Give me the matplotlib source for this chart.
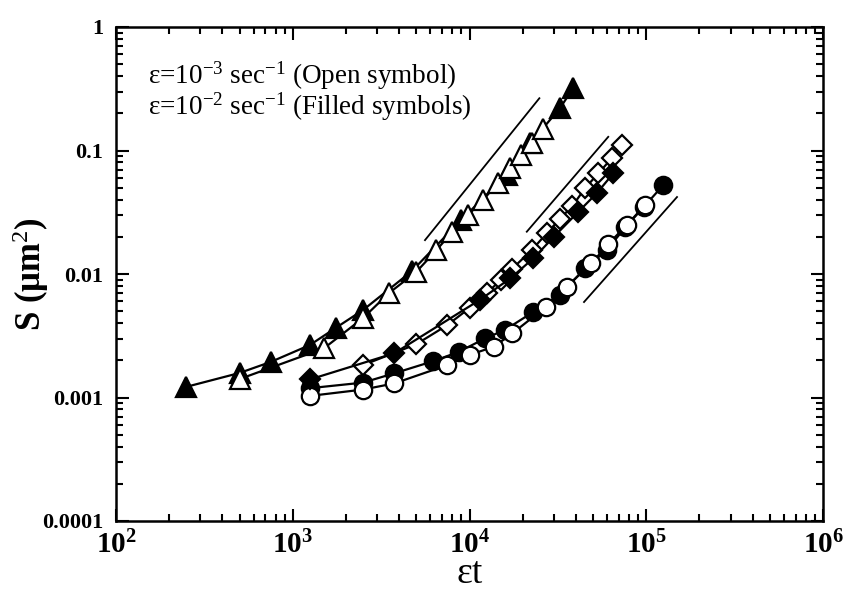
import matplotlib
matplotlib.use("Agg")
import matplotlib.pyplot as plt
from matplotlib.ticker import LogLocator, FixedLocator, FixedFormatter, NullFormatter

plt.rcParams['font.family'] = ['Liberation Serif', 'DejaVu Serif']
plt.rcParams['mathtext.fontset'] = 'custom'
plt.rcParams['mathtext.rm'] = 'Liberation Serif'
plt.rcParams['mathtext.it'] = 'Liberation Serif:italic'
plt.rcParams['mathtext.bf'] = 'Liberation Serif:bold'

# ---- data ----
tri_open_x = [500, 1500, 2500, 3500, 5000, 6500, 8000, 9800, 12000, 14500, 17000, 19500, 22500, 26000]
tri_open_y = [0.00141, 0.0025, 0.0044, 0.0070, 0.0104, 0.0156, 0.022, 0.030, 0.040, 0.055, 0.072, 0.092, 0.114, 0.15]

tri_fill_x = [250, 500, 750, 1250, 1750, 2500, 4700, 9000, 16200, 22000, 32500, 38600]
tri_fill_y = [0.00122, 0.00158, 0.00194, 0.00266, 0.00366, 0.00511, 0.0105, 0.0275, 0.0633, 0.114, 0.22, 0.32]

dia_open_x = [2500, 5000, 7500, 10000, 12500, 15000, 17400, 22500, 27300, 32500, 38200, 45000, 53600, 63800, 72600]
dia_open_y = [0.00183, 0.0027, 0.00386, 0.0053, 0.0070, 0.0089, 0.011, 0.0156, 0.0213, 0.028, 0.0355, 0.0494, 0.0654, 0.0865, 0.111]

dia_fill_x = [1250, 3750, 11500, 17000, 23000, 30000, 41300, 52400, 65200]
dia_fill_y = [0.0014, 0.00228, 0.0062, 0.0092, 0.0134, 0.020, 0.0319, 0.045, 0.0654]

cir_open_x = [1250, 2500, 3750, 7500, 10000, 13750, 17500, 27000, 35500, 49000, 61000, 77500, 98500]
cir_open_y = [0.00103, 0.00116, 0.0013, 0.00183, 0.00221, 0.00258, 0.00331, 0.0054, 0.0079, 0.0122, 0.0175, 0.0249, 0.0362]

cir_fill_x = [1250, 2500, 3750, 6250, 8750, 12250, 15850, 22800, 32500, 45000, 59700, 76000, 97000, 125000]
cir_fill_y = [0.00119, 0.00132, 0.00157, 0.00197, 0.00235, 0.00301, 0.00352, 0.0049, 0.0068, 0.0111, 0.0156, 0.0238, 0.035, 0.0526]

guide1_x = [5600, 24850]
guide1_y = [0.0188, 0.265]
guide2_x = [21090, 60950]
guide2_y = [0.022, 0.129]
guide3_x = [44450, 149300]
guide3_y = [0.00593, 0.042]

x_ticks = [1e2, 1e3, 1e4, 1e5, 1e6]
x_ticklabels = [r'$\mathbf{10^{2}}$', r'$\mathbf{10^{3}}$', r'$\mathbf{10^{4}}$', r'$\mathbf{10^{5}}$', r'$\mathbf{10^{6}}$']
y_ticks = [1e-4, 1e-3, 1e-2, 1e-1, 1]
y_ticklabels = ['0.0001', '0.001', '0.01', '0.1', '1']

legend_lines = [r'ε=10$^{-3}$ sec$^{-1}$ (Open symbol)', r'ε=10$^{-2}$ sec$^{-1}$ (Filled symbols)']

# ---- figure ----
fig = plt.figure(figsize=(8.58, 6.0), dpi=100)
ax = fig.add_axes([116/858, 1-521/600, (823-116)/858, (521-27)/600])
ax.set_xscale('log')
ax.set_yscale('log')
ax.set_xlim(1e2, 1e6)
ax.set_ylim(1e-4, 1)

lw = 1.6
mew = 1.6
common = dict(color='black', lw=lw, mew=mew, mec='black')

ax.plot(tri_fill_x, tri_fill_y, marker='^', ms=15, mfc='black', **common, zorder=3)
ax.plot(tri_open_x, tri_open_y, marker='^', ms=15, mfc='white', **common, zorder=4)
ax.plot(cir_fill_x, cir_fill_y, marker='o', ms=12.5, mfc='black', **common, zorder=3)
ax.plot(cir_open_x, cir_open_y, marker='o', ms=12.5, mfc='white', **common, zorder=4)
ax.plot(dia_fill_x, dia_fill_y, marker='D', ms=10, mfc='black', **common, zorder=5)
ax.plot(dia_open_x, dia_open_y, marker='D', ms=10, mfc='white', **common, zorder=4)

for gx, gy in [(guide1_x, guide1_y), (guide2_x, guide2_y), (guide3_x, guide3_y)]:
    ax.plot(gx, gy, color='black', lw=1.3, zorder=2)

# ticks
ax.xaxis.set_major_locator(FixedLocator(x_ticks))
ax.xaxis.set_major_formatter(FixedFormatter(x_ticklabels))
ax.xaxis.set_minor_locator(LogLocator(base=10, subs=range(2, 10), numticks=20))
ax.xaxis.set_minor_formatter(NullFormatter())
ax.yaxis.set_major_locator(FixedLocator(y_ticks))
ax.yaxis.set_major_formatter(FixedFormatter(y_ticklabels))
ax.yaxis.set_minor_locator(LogLocator(base=10, subs=range(2, 10), numticks=20))
ax.yaxis.set_minor_formatter(NullFormatter())

ax.tick_params(which='both', direction='in', top=True, right=True, width=1.5, color='black')
ax.tick_params(which='major', length=9)
ax.tick_params(which='minor', length=5)
ax.tick_params(axis='x', which='major', labelsize=21, pad=7)
ax.tick_params(axis='y', which='major', labelsize=16, pad=9)
for lab in ax.get_yticklabels():
    lab.set_fontweight('bold')
for sp in ax.spines.values():
    sp.set_linewidth(1.8)

ax.set_xlabel('εt', fontsize=27, labelpad=-2)
ax.set_ylabel(r'S (μm$^{2}$)', fontsize=25, fontweight='bold')
ax.yaxis.set_label_coords(-0.092, 0.5)

ax.text(0.045, 0.805, '\n'.join(legend_lines), transform=ax.transAxes, fontsize=19.5,
        va='bottom', ha='left', linespacing=0.95)

fig.savefig('out.png', dpi=100)
